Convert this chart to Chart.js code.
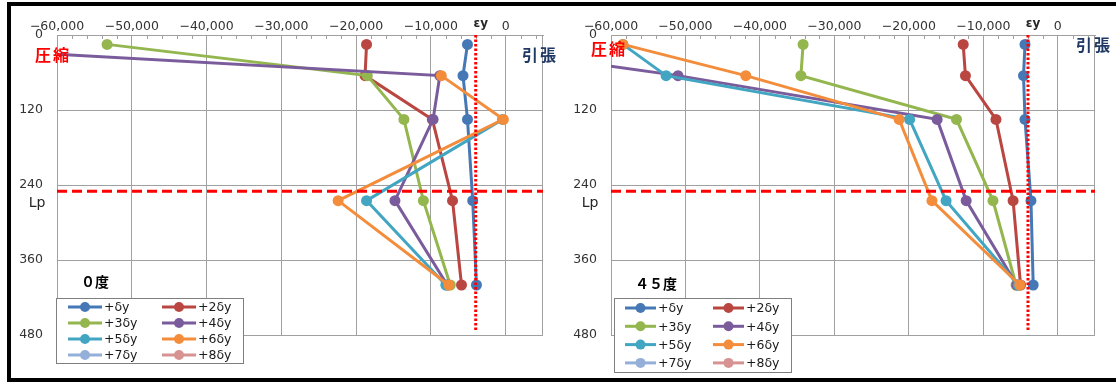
<!DOCTYPE html>
<html>
<head>
<meta charset="utf-8">
<script src="https://cdn.jsdelivr.net/npm/chart.js@4/dist/chart.umd.min.js"></script>
<style>
  html, body { margin: 0; padding: 0; background: #fff; }
  #frame { position: relative; width: 1116px; height: 383px; overflow: hidden; background: #fff; }
  #frame canvas { position: absolute; top: 0; }
  .edge { position: absolute; background: #000; }
</style>
</head>
<body>
<div id="frame">
  <canvas id="deg0" width="566" height="383" style="left:0"></canvas>
  <canvas id="deg45" width="560" height="383" style="left:556px"></canvas>
  <div class="edge" style="left:7px;top:2px;width:1109px;height:4px"></div>
  <div class="edge" style="left:7px;top:2px;width:4px;height:380px"></div>
  <div class="edge" style="left:7px;top:378px;width:1109px;height:4px"></div>
</div>
<script>
// Gauge depths (mm) shared by every series
const depths = [15, 65, 135, 265, 400];

// Axis ranges and tick labels
const xMin = -60000, xMax = 5000;
const xTicks = [-60000, -50000, -40000, -30000, -20000, -10000, 0];
const yTicks = [0, 120, 240, 360, 480];

// Reference values: yield strain and plastic hinge length
const yieldStrain = -4000;
const hingeLength = 250;

const seriesNames = ['+δy', '+2δy', '+3δy', '+4δy', '+5δy', '+6δy', '+7δy', '+8δy'];
const seriesColors = ['#4678B6', '#BA4642', '#93B64E', '#7A5C9C', '#42A6C2', '#F38D3C', '#94B0D9', '#D69391'];

// 0° loading – strain per gauge (null = no reading)
const deg0_1dy = [-5100, -5700, -5100, -4400, -3900];
const deg0_2dy = [-18600, -18800, -9800, -7100, -5900];
const deg0_3dy = [-53300, -18500, -13600, -11000, -7400];
const deg0_4dy = [-84000, -8800, -9700, -14800, -7800];
const deg0_5dy = [null, null, -400, -18600, -8000];
const deg0_6dy = [null, -8600, -300, -22400, -7600];
const deg0_7dy = [];
const deg0_8dy = [];

// 45° loading – strain per gauge
const deg45_1dy = [-4400, -4600, -4400, -3600, -3300];
const deg45_2dy = [-12700, -12400, -8300, -6000, -5000];
const deg45_3dy = [-34200, -34500, -13600, -8700, -5600];
const deg45_4dy = [-81000, -51000, -16200, -12300, -5500];
const deg45_5dy = [-58400, -52600, -19900, -15000, -5300];
const deg45_6dy = [-58400, -41900, -21300, -16900, -5100];
const deg45_7dy = [];
const deg45_8dy = [];

const tickFont = { family: 'DejaVu Sans', size: 12.5 };
const tickColor = '#333333';
const gridColor = '#A0A0A0';
const cjk = '"Noto Sans CJK JP", "Noto Sans", sans-serif';

function fmt(v) {
  if (v === 0) return '0';
  const s = Math.abs(v).toLocaleString('en-US');
  return (v < 0 ? '\u2212' : '') + s;
}

const panelPlugin = {
  id: 'panelDecor',
  beforeDatasetsDraw(chart) {
    const { ctx, chartArea: a, scales } = chart;
    ctx.save();
    ctx.strokeStyle = gridColor;
    ctx.lineWidth = 1;
    ctx.strokeRect(a.left + 0.5, a.top + 0.5, a.right - a.left - 1, a.bottom - a.top);
    // minor tick marks along the top axis
    ctx.beginPath();
    for (let v = xMin; v <= xMax; v += 2000) {
      if (v % 10000 === 0) continue;
      const px = Math.round(scales.x.getPixelForValue(v)) + 0.5;
      ctx.moveTo(px, a.top);
      ctx.lineTo(px, a.top + 4);
    }
    ctx.stroke();
    ctx.restore();
  },
  afterDraw(chart, args, o) {
    const { ctx, scales } = chart;
    ctx.save();
    ctx.textAlign = 'center';
    ctx.textBaseline = 'middle';
    // compression / tension labels
    ctx.font = 'bold 16px ' + cjk;
    ctx.fillStyle = '#FF0000';
    ctx.letterSpacing = '2px';
    ctx.fillText('圧縮', o.comp[0], o.comp[1]);
    ctx.fillStyle = '#1F3864';
    ctx.fillText('引張', o.tens[0], o.tens[1]);
    ctx.letterSpacing = '0px';
    // εy and Lp labels
    ctx.fillStyle = '#262626';
    ctx.font = 'bold 12px "DejaVu Sans"';
    ctx.fillText('εy', scales.x.getPixelForValue(yieldStrain) + 5, 24);
    ctx.font = '14px "DejaVu Sans"';
    ctx.fillText('Lp', o.lpX, scales.y.getPixelForValue(hingeLength) + 12);
    // panel title
    ctx.fillStyle = '#000';
    ctx.font = 'bold 14px ' + cjk;
    ctx.fillText(o.title, o.titlePos[0], o.titlePos[1]);
    // legend box
    const L = o.legend;
    ctx.fillStyle = '#fff';
    ctx.fillRect(L.x, L.y, L.w, L.h);
    ctx.strokeStyle = '#7F7F7F';
    ctx.lineWidth = 1;
    ctx.strokeRect(L.x + 0.5, L.y + 0.5, L.w, L.h);
    ctx.font = '12.5px "DejaVu Sans"';
    ctx.textAlign = 'left';
    seriesNames.forEach((name, i) => {
      const col = i % 2, row = Math.floor(i / 2);
      const cy = L.y + L.first + row * L.rowH;
      const x0 = col === 0 ? L.c1 : L.c2;
      ctx.strokeStyle = seriesColors[i];
      ctx.lineWidth = 3;
      ctx.beginPath();
      ctx.moveTo(x0, cy);
      ctx.lineTo(x0 + L.len, cy);
      ctx.stroke();
      ctx.fillStyle = seriesColors[i];
      ctx.beginPath();
      ctx.arc(x0 + L.len / 2, cy, 5, 0, Math.PI * 2);
      ctx.fill();
      ctx.fillStyle = '#1a1a1a';
      ctx.fillText(name, x0 + L.len + 2, cy + 1);
    });
    ctx.restore();
  }
};

function makePanel(id, series, decor, yWidth, padRight) {
  const datasets = series.map((vals, i) => ({
    label: seriesNames[i],
    data: vals.map((v, k) => ({ x: v, y: depths[k] })).filter(p => p.x !== null),
    borderColor: seriesColors[i],
    backgroundColor: seriesColors[i],
    borderWidth: 3,
    pointRadius: 5.5,
    pointHoverRadius: 5.5,
    pointBorderWidth: 0,
    showLine: true,
    order: -i
  }));
  datasets.push({
    label: 'εy',
    data: [{ x: yieldStrain, y: 0 }, { x: yieldStrain, y: 472 }],
    borderColor: '#FF0000', borderWidth: 3, borderDash: [2.5, 2],
    pointRadius: 0, showLine: true, order: -100
  });
  datasets.push({
    label: 'Lp',
    data: [{ x: xMin, y: hingeLength }, { x: xMax, y: hingeLength }],
    borderColor: '#FF0000', borderWidth: 3, borderDash: [10, 5],
    pointRadius: 0, showLine: true, order: -101
  });

  return new Chart(document.getElementById(id), {
    type: 'scatter',
    data: { datasets },
    plugins: [panelPlugin],
    options: {
      responsive: false,
      animation: false,
      events: [],
      layout: { padding: { left: 0, top: 0, right: padRight, bottom: 48 } },
      plugins: {
        legend: { display: false },
        tooltip: { enabled: false },
        panelDecor: decor
      },
      scales: {
        x: {
          type: 'linear', position: 'top', min: xMin, max: xMax,
          afterBuildTicks: s => { s.ticks = xTicks.map(v => ({ value: v })); },
          afterFit: s => { s.height = 35; },
          ticks: { padding: 1, font: tickFont, color: tickColor, maxRotation: 0, autoSkip: false, callback: v => fmt(v) },
          grid: { color: gridColor, lineWidth: 1, drawTicks: false },
          border: { color: gridColor }
        },
        y: {
          type: 'linear', reverse: true, min: 0, max: 480,
          afterBuildTicks: s => { s.ticks = yTicks.map(v => ({ value: v })); },
          afterFit: s => { s.width = yWidth; },
          ticks: { padding: 14, font: tickFont, color: tickColor, callback: v => String(v) },
          grid: { color: gridColor, lineWidth: 1, drawTicks: false },
          border: { color: gridColor }
        }
      }
    }
  });
}

makePanel('deg0',
  [deg0_1dy, deg0_2dy, deg0_3dy, deg0_4dy, deg0_5dy, deg0_6dy, deg0_7dy, deg0_8dy],
  {
    comp: [53, 55], tens: [540, 55], lpX: 37,
    title: '０度', titlePos: [95, 282],
    legend: { x: 56, y: 298, w: 187, h: 65, first: 9, rowH: 16, c1: 68, c2: 162, len: 34 }
  }, 57, 23);

makePanel('deg45',
  [deg45_1dy, deg45_2dy, deg45_3dy, deg45_4dy, deg45_5dy, deg45_6dy, deg45_7dy, deg45_8dy],
  {
    comp: [53, 49], tens: [538, 45], lpX: 34,
    title: '４５度', titlePos: [100, 284],
    legend: { x: 58, y: 298, w: 177, h: 74, first: 10, rowH: 18.3, c1: 69, c2: 157, len: 31 }
  }, 55, 21);
</script>
</body>
</html>
